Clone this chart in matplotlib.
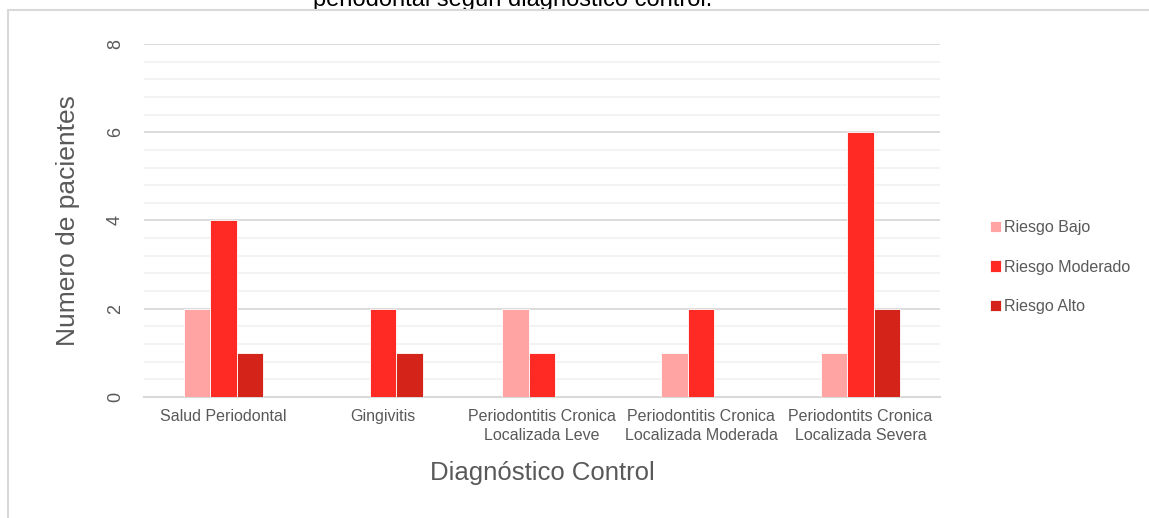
import matplotlib
matplotlib.use('Agg')
import matplotlib.pyplot as plt
import numpy as np
from matplotlib.patches import Rectangle
from matplotlib.ticker import MultipleLocator

plt.rcParams['font.family'] = ['Liberation Sans', 'DejaVu Sans']

categorias = ['Salud Periodontal', 'Gingivitis',
              'Periodontitis Cronica\nLocalizada Leve',
              'Periodontitis Cronica\nLocalizada Moderada',
              'Periodontits Cronica\nLocalizada Severa']
riesgo_bajo = [2, 0, 2, 1, 1]
riesgo_moderado = [4, 2, 1, 2, 6]
riesgo_alto = [1, 1, 0, 0, 2]

series = [('Riesgo Bajo', riesgo_bajo, '#FFA3A3'),
          ('Riesgo Moderado', riesgo_moderado, '#FF2A24'),
          ('Riesgo Alto', riesgo_alto, '#D42318')]

gris = '#595959'
fig = plt.figure(figsize=(11.49, 5.18), dpi=100)
ax = fig.add_axes([0.1253, 0.2336, 0.6928, 0.6815])

x = np.arange(len(categorias))
ancho = 1 / 6
for i, (nombre, vals, color) in enumerate(series):
    ax.bar(x + (i - 1) * ancho, vals, width=ancho, color=color,
           edgecolor='white', linewidth=0.6, label=nombre, zorder=3)

ax.set_xlim(-0.5, len(categorias) - 0.5)
ax.set_ylim(0, 8)
ax.yaxis.set_major_locator(MultipleLocator(2))
ax.yaxis.set_minor_locator(MultipleLocator(0.4))
ax.grid(axis='y', which='major', color='#D9D9D9', linewidth=1.3, zorder=0)
ax.grid(axis='y', which='minor', color='#F2F2F2', linewidth=1.3, zorder=0)
ax.set_axisbelow(True)
for s in ['top', 'right', 'left']:
    ax.spines[s].set_visible(False)
ax.spines['bottom'].set_color('#D9D9D9')
ax.spines['bottom'].set_linewidth(1.5)
ax.tick_params(axis='both', which='both', length=0)

ax.set_xticks(x)
ax.set_xticklabels(categorias, fontsize=11.5, color=gris, linespacing=1.3)
ax.tick_params(axis='x', pad=9)
ax.set_yticks([0, 2, 4, 6, 8])
ax.set_yticklabels(['0', '2', '4', '6', '8'], fontsize=13, color=gris,
                   rotation=90, va='center')
ax.tick_params(axis='y', pad=14.5)

ax.set_ylabel('Numero de pacientes', fontsize=19, color=gris, labelpad=19)
ax.set_xlabel('Diagnóstico Control', fontsize=18.5, color=gris, labelpad=13)

leg = ax.legend(loc='center left', bbox_to_anchor=(1.045, 0.368), frameon=False,
                fontsize=11.5, handlelength=0.7, handleheight=0.7,
                handletextpad=0.15, labelspacing=1.55)
for t in leg.get_texts():
    t.set_color(gris)

# titulo recortado en la parte superior
fig.text(513 / 1149, 1 - 6 / 518, 'periodontal según diagnóstico control.',
         ha='center', va='baseline', fontsize=17, color='black')

# borde del area del grafico
fig.add_artist(Rectangle((8 / 1149, -0.1), 1.2, 1 - 10 / 518 + 0.1,
                         transform=fig.transFigure, fill=False,
                         edgecolor='#D9D9D9', linewidth=1.5, zorder=5))

fig.savefig('out.png', dpi=100)
